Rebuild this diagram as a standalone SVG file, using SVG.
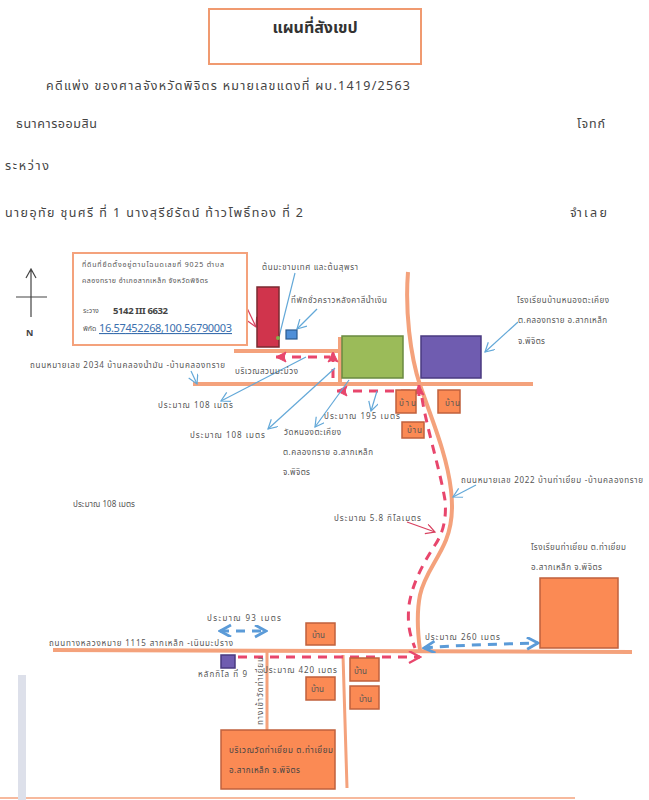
<svg xmlns="http://www.w3.org/2000/svg" width="649" height="800" viewBox="0 0 649 800">
<style>
text{font-family:"Noto Sans Thai","Liberation Sans","Noto Sans","DejaVu Sans",sans-serif;fill:#555;font-size:8px}
.h{font-size:12.5px;fill:#444}
.s{font-size:7px}
.road{fill:none;stroke:#f4a27c;stroke-width:4}
.box{fill:#fb8a54;stroke:#c0603c;stroke-width:1.5}
.call{fill:none;stroke:#63a8d8;stroke-width:1.2}
.callr{fill:none;stroke:#d8405f;stroke-width:1.2}
.dash{fill:none;stroke:#e8466c;stroke-width:3;stroke-dasharray:9 7}
.bd{fill:none;stroke:#5b9bd8;stroke-width:3;stroke-dasharray:9 7}
</style>
<defs>
<marker id="ab" markerWidth="12" markerHeight="12" refX="10" refY="5" orient="auto" markerUnits="userSpaceOnUse"><path d="M1 0L10 5L1 10" fill="none" stroke="#63a8d8" stroke-width="1.2"/></marker>
<marker id="ar" markerWidth="12" markerHeight="12" refX="10" refY="5" orient="auto" markerUnits="userSpaceOnUse"><path d="M1 0L10 5L1 10" fill="none" stroke="#d8405f" stroke-width="1.2"/></marker>
<marker id="rf" markerWidth="14" markerHeight="14" refX="11" refY="6" orient="auto-start-reverse" markerUnits="userSpaceOnUse"><path d="M1 1L11 6L1 11L3 6Z" fill="#e8466c" stroke="#e8466c"/></marker>
<marker id="rh" markerWidth="14" markerHeight="14" refX="12" refY="6" orient="auto-start-reverse" markerUnits="userSpaceOnUse"><path d="M1 0L12 6L1 12" fill="none" stroke="#e8466c" stroke-width="2.2"/></marker>
<marker id="bh" markerWidth="14" markerHeight="14" refX="12" refY="6" orient="auto-start-reverse" markerUnits="userSpaceOnUse"><path d="M1 0L12 6L1 12" fill="none" stroke="#5b9bd8" stroke-width="2.8"/></marker>
</defs>
<rect x="209" y="9" width="212" height="55" fill="#fff" stroke="#f09a70" stroke-width="2"/>
<text x="315" y="33" text-anchor="middle" style="font-size:16px;font-weight:700;fill:#333">แผนที่สังเขป</text>
<text class="h" x="46" y="90" textLength="364">คดีแพ่ง   ของศาลจังหวัดพิจิตร  หมายเลขแดงที่ ผบ.1419/2563</text>
<text class="h" x="16" y="128" textLength="81">ธนาคารออมสิน</text>
<text class="h" x="577" y="128" textLength="28">โจทก์</text>
<text class="h" x="5" y="170" textLength="44">ระหว่าง</text>
<text class="h" x="5" y="217" textLength="298">นายอุทัย ชุนศรี  ที่ 1  นางสุรีย์รัตน์ ท้าวโพธิ์ทอง ที่  2</text>
<text class="h" x="570" y="217" textLength="37">จำเลย</text>
<g id="north" fill="none" stroke="#444" stroke-width="1.2"><path d="M31 317V270M26 278L31 269L36 278M16 297H47"/></g>
<text x="26" y="336" style="font-size:9px;font-weight:700;fill:#444">N</text>
<g id="connectors">
<path class="road" d="M234 351H340V337M193 384H533"/>
<path class="road" d="M408 272C405 310 410 355 420 385C432 420 447 455 451 490C454 515 450 530 446 540C438 560 424 575 420 595C416 615 418 635 420 650"/>
<path class="road" d="M340 337V384"/>
<path class="road" d="M53 650L632 652"/>
<path class="road" style="stroke-width:3" d="M267 652V730M343 655L347 788"/>
<path d="M0 798H575" stroke="#f4a27c" stroke-width="1.5"/>
<path d="M276 357H330" class="dash" marker-start="url(#rf)"/>
<path d="M333 378V352" class="dash" marker-end="url(#rf)"/>
<path d="M337 391H417" class="dash" marker-start="url(#rf)"/>
<path d="M419 396V385" stroke="#e8466c" stroke-width="3" marker-end="url(#rf)"/>
<path d="M422 398C426 425 440 470 445 500C447 520 442 535 435 545C422 565 412 585 409 605C407 625 410 635 415 648" class="dash"/>
<path d="M238 657H420" class="dash" marker-end="url(#rh)"/>
<path d="M220 631H266" class="bd" marker-start="url(#bh)" marker-end="url(#bh)"/>
<path d="M424 648C460 645 500 644 538 643" class="bd" marker-start="url(#bh)" marker-end="url(#bh)"/>
<path d="M295 273L279 337" class="call"/>
<path d="M317 309L297 329" class="call" marker-end="url(#ab)"/>
<path d="M518 322L485 352" class="call" marker-end="url(#ab)"/>
<path d="M191 371L197 384" class="call" marker-end="url(#ab)"/>
<path d="M306 357L221 401" class="call" marker-end="url(#ab)"/>
<path d="M335 368L268 429" class="call" marker-end="url(#ab)"/>
<path d="M349 380L315 427" class="call" marker-end="url(#ab)"/>
<path d="M377 391L371 411" class="call" marker-end="url(#ab)"/>
<path d="M476 485L453 497" class="call" marker-end="url(#ab)"/>
<path d="M407 522L435 532" class="callr" marker-end="url(#ar)"/>
<path d="M247 308L256 327" class="callr" marker-end="url(#ar)"/>
</g>
<g id="info"><rect x="73" y="253" width="174" height="92" fill="#fff" stroke="#f4a27c" stroke-width="2"/>
<text class="s" x="82" y="267" textLength="142">ที่ดินที่ยึดตั้งอยู่ตามโฉนดเลขที่   9025     ตำบล</text>
<text class="s" x="82" y="283" textLength="126">คลองทราย  อำเภอสากเหล็ก  จังหวัดพิจิตร</text>
<text class="s" x="83" y="313">ระวาง</text>
<text x="113" y="314" style="font-size:9.5px;font-weight:700;fill:#444" textLength="55">5142 III 6632</text>
<text class="s" x="83" y="331">พิกัด</text>
<text x="99" y="332" textLength="133" style="font-size:11px;fill:#3a6fae;text-decoration:underline">16.57452268,100.56790003</text></g>
<g id="red-building"><rect x="257" y="287" width="22" height="60" fill="#d0344c" stroke="#7a2a30" stroke-width="1.5"/></g>
<g id="tree"><circle cx="278" cy="338" r="2" fill="#7fb04a"/></g>
<g id="blue-shelter"><rect x="286" y="330" width="11" height="9" fill="#4f8fd8" stroke="#2a5a90" stroke-width="1.2"/></g>
<g id="green"><rect x="342" y="336" width="61" height="42" fill="#9bbb59" stroke="#6a8a40" stroke-width="1.5"/></g>
<g id="purple"><rect x="421" y="336" width="60" height="42" fill="#6f5cb0" stroke="#4a3a80" stroke-width="1.5"/></g>
<g id="house1"><rect class="box" x="396" y="390" width="20" height="23"/><text x="399" y="406" textLength="17">บ้าน</text></g>
<g id="house2"><rect class="box" x="438" y="390" width="22" height="23"/><text x="445" y="406" textLength="15">บ้าน</text></g>
<g id="house3"><rect class="box" x="402" y="422" width="22" height="16"/><text x="407" y="433" textLength="15">บ้าน</text></g>
<g id="house4"><rect class="box" x="306" y="623" width="29" height="22"/><text x="312" y="638">บ้าน</text></g>
<g id="house5"><rect class="box" x="306" y="677" width="29" height="23"/><text x="311" y="692">บ้าน</text></g>
<g id="house6"><rect class="box" x="350" y="658" width="29" height="23"/><text x="354" y="674">บ้าน</text></g>
<g id="house7"><rect class="box" x="350" y="686" width="29" height="23"/><text x="359" y="702">บ้าน</text></g>
<g id="km"><rect x="221" y="655" width="14" height="13" fill="#6f5cb0" stroke="#4a3a80" stroke-width="1.5"/></g>
<g id="wat"><rect class="box" x="221" y="730" width="114" height="59"/>
<text x="229" y="753" textLength="104" style="fill:#444">บริเวณวัดท่าเยี่ยม ต.ท่าเยี่ยม</text>
<text x="229" y="773" textLength="71" style="fill:#444">อ.สากเหล็ก จ.พิจิตร</text></g>
<g id="school"><rect class="box" x="540" y="578" width="78" height="70"/></g>
<rect x="18" y="675" width="8" height="125" fill="#dde0ea"/>
<g id="labels">
<text x="262" y="270" textLength="96">ต้นมะขามเทศ และต้นสุพรา</text>
<text x="291" y="303" textLength="96">ที่พักชั่วคราวหลังคาสีน้ำเงิน</text>
<text x="30" y="368" textLength="195">ถนนหมายเลข 2034 บ้านคลองน้ำมัน -บ้านคลองทราย</text>
<text x="235" y="374" textLength="63">บริเวณสวนมะม่วง</text>
<text x="158" y="408" textLength="75">ประมาณ  108  เมตร</text>
<text x="190" y="438" textLength="75">ประมาณ  108  เมตร</text>
<text x="284" y="435" textLength="57">วัดหนองตะเคียง</text>
<text x="283" y="455" textLength="90">ต.คลองทราย อ.สากเหล็ก</text>
<text x="283" y="475" textLength="27">จ.พิจิตร</text>
<text x="324" y="419" textLength="76">ประมาณ  195  เมตร</text>
<text x="517" y="303" textLength="92">โรงเรียนบ้านหนองตะเคียง</text>
<text x="518" y="323" textLength="89">ต.คลองทราย อ.สากเหล็ก</text>
<text x="518" y="344" textLength="27">จ.พิจิตร</text>
<text x="461" y="483" textLength="182">ถนนหมายเลข 2022 บ้านท่าเยี่ยม -บ้านคลองทราย</text>
<text x="73" y="507" textLength="62">ประมาณ  108  เมตร</text>
<text x="334" y="521" textLength="87">ประมาณ  5.8  กิโลเมตร</text>
<text x="531" y="550" textLength="95">โรงเรียนท่าเยี่ยม ต.ท่าเยี่ยม</text>
<text x="531" y="570" textLength="71">อ.สากเหล็ก จ.พิจิตร</text>
<text x="207" y="621" textLength="74">ประมาณ  93  เมตร</text>
<text x="49" y="646" textLength="184">ถนนทางหลวงหมาย 1115  สากเหล็ก -เนินมะปราง</text>
<text x="198" y="677" textLength="49">หลักกิโล ที่ 9</text>
<text x="263" y="673" textLength="74">ประมาณ  420  เมตร</text>
<text x="425" y="640" textLength="75">ประมาณ  260  เมตร</text>
<text transform="translate(263 725) rotate(-90)" textLength="68">ทางเข้าวัดท่าเยี่ยม</text>
</g>
</svg>
